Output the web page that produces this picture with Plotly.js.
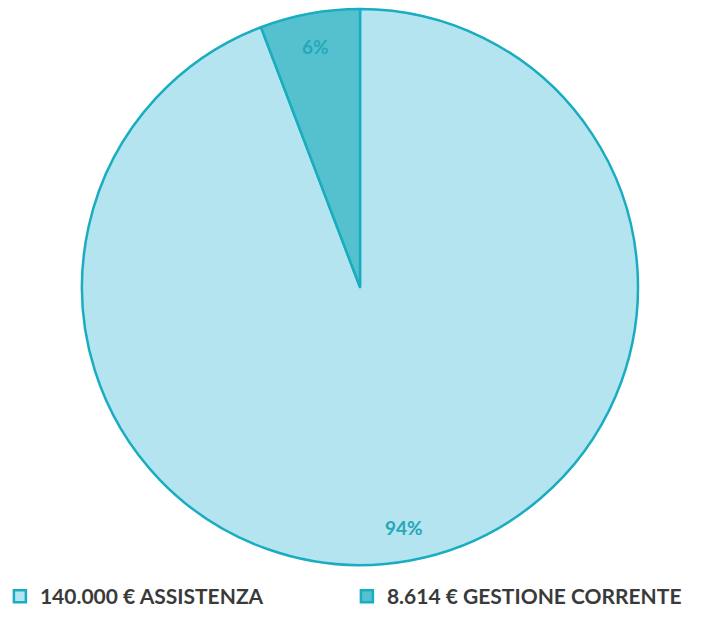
<!DOCTYPE html>
<html>
<head>
<meta charset="utf-8">
<script src="https://cdn.plot.ly/plotly-3.0.1.min.js"></script>
<style>html,body{margin:0;padding:0;background:#fff;}#chart{width:701px;height:630px;}</style>
</head>
<body>
<div id="chart"></div>
<script>
const labels = ["140.000 € ASSISTENZA", "8.614 € GESTIONE CORRENTE"];
const values = [140000, 8614];
const sliceColors = ["#b4e4f0", "#55c1cf"];

const W = 701, H = 630;
const margin = {l: 19, r: 0, t: 9, b: 65, autoexpand: false};
const plotW = W - margin.l - margin.r, plotH = H - margin.t - margin.b;
const R = Math.min(plotW, plotH) / 2;
const labelRadius = 0.88;

// percentage labels placed at each slice's mid-angle (clockwise from 12 o'clock)
const total = values.reduce((a, b) => a + b, 0);
let cum = 0;
const annotations = values.map(v => {
  const mid = (cum + v / 2) / total * 2 * Math.PI;
  cum += v;
  return {
    xref: "paper", yref: "paper",
    x: 0.5 + labelRadius * R * Math.sin(mid) / plotW,
    y: 0.5 + labelRadius * R * Math.cos(mid) / plotH,
    xanchor: "center", yanchor: "middle",
    text: Math.round(v / total * 100) + "%",
    showarrow: false,
    font: {family: "Lato, 'Open Sans', sans-serif", size: 19, color: "#25a8b9", weight: "bold"}
  };
});

const trace = {
  type: "pie",
  labels: labels,
  values: values,
  sort: false,
  direction: "clockwise",
  rotation: 0,
  textinfo: "none",
  marker: {colors: sliceColors, line: {color: "#19adbf", width: 2.5}},
  hoverinfo: "none"
};

const layout = {
  width: W,
  height: H,
  margin: margin,
  paper_bgcolor: "#ffffff",
  showlegend: true,
  annotations: annotations,
  legend: {
    orientation: "h",
    x: -0.028, xanchor: "left",
    y: -0.02, yanchor: "top",
    entrywidth: 302,
    font: {family: "Lato, 'Open Sans', sans-serif", size: 21, color: "#3a3a3a", weight: "bold"},
    traceorder: "normal"
  }
};

Plotly.newPlot("chart", [trace], layout, {displayModeBar: false, staticPlot: true});
</script>
</body>
</html>
